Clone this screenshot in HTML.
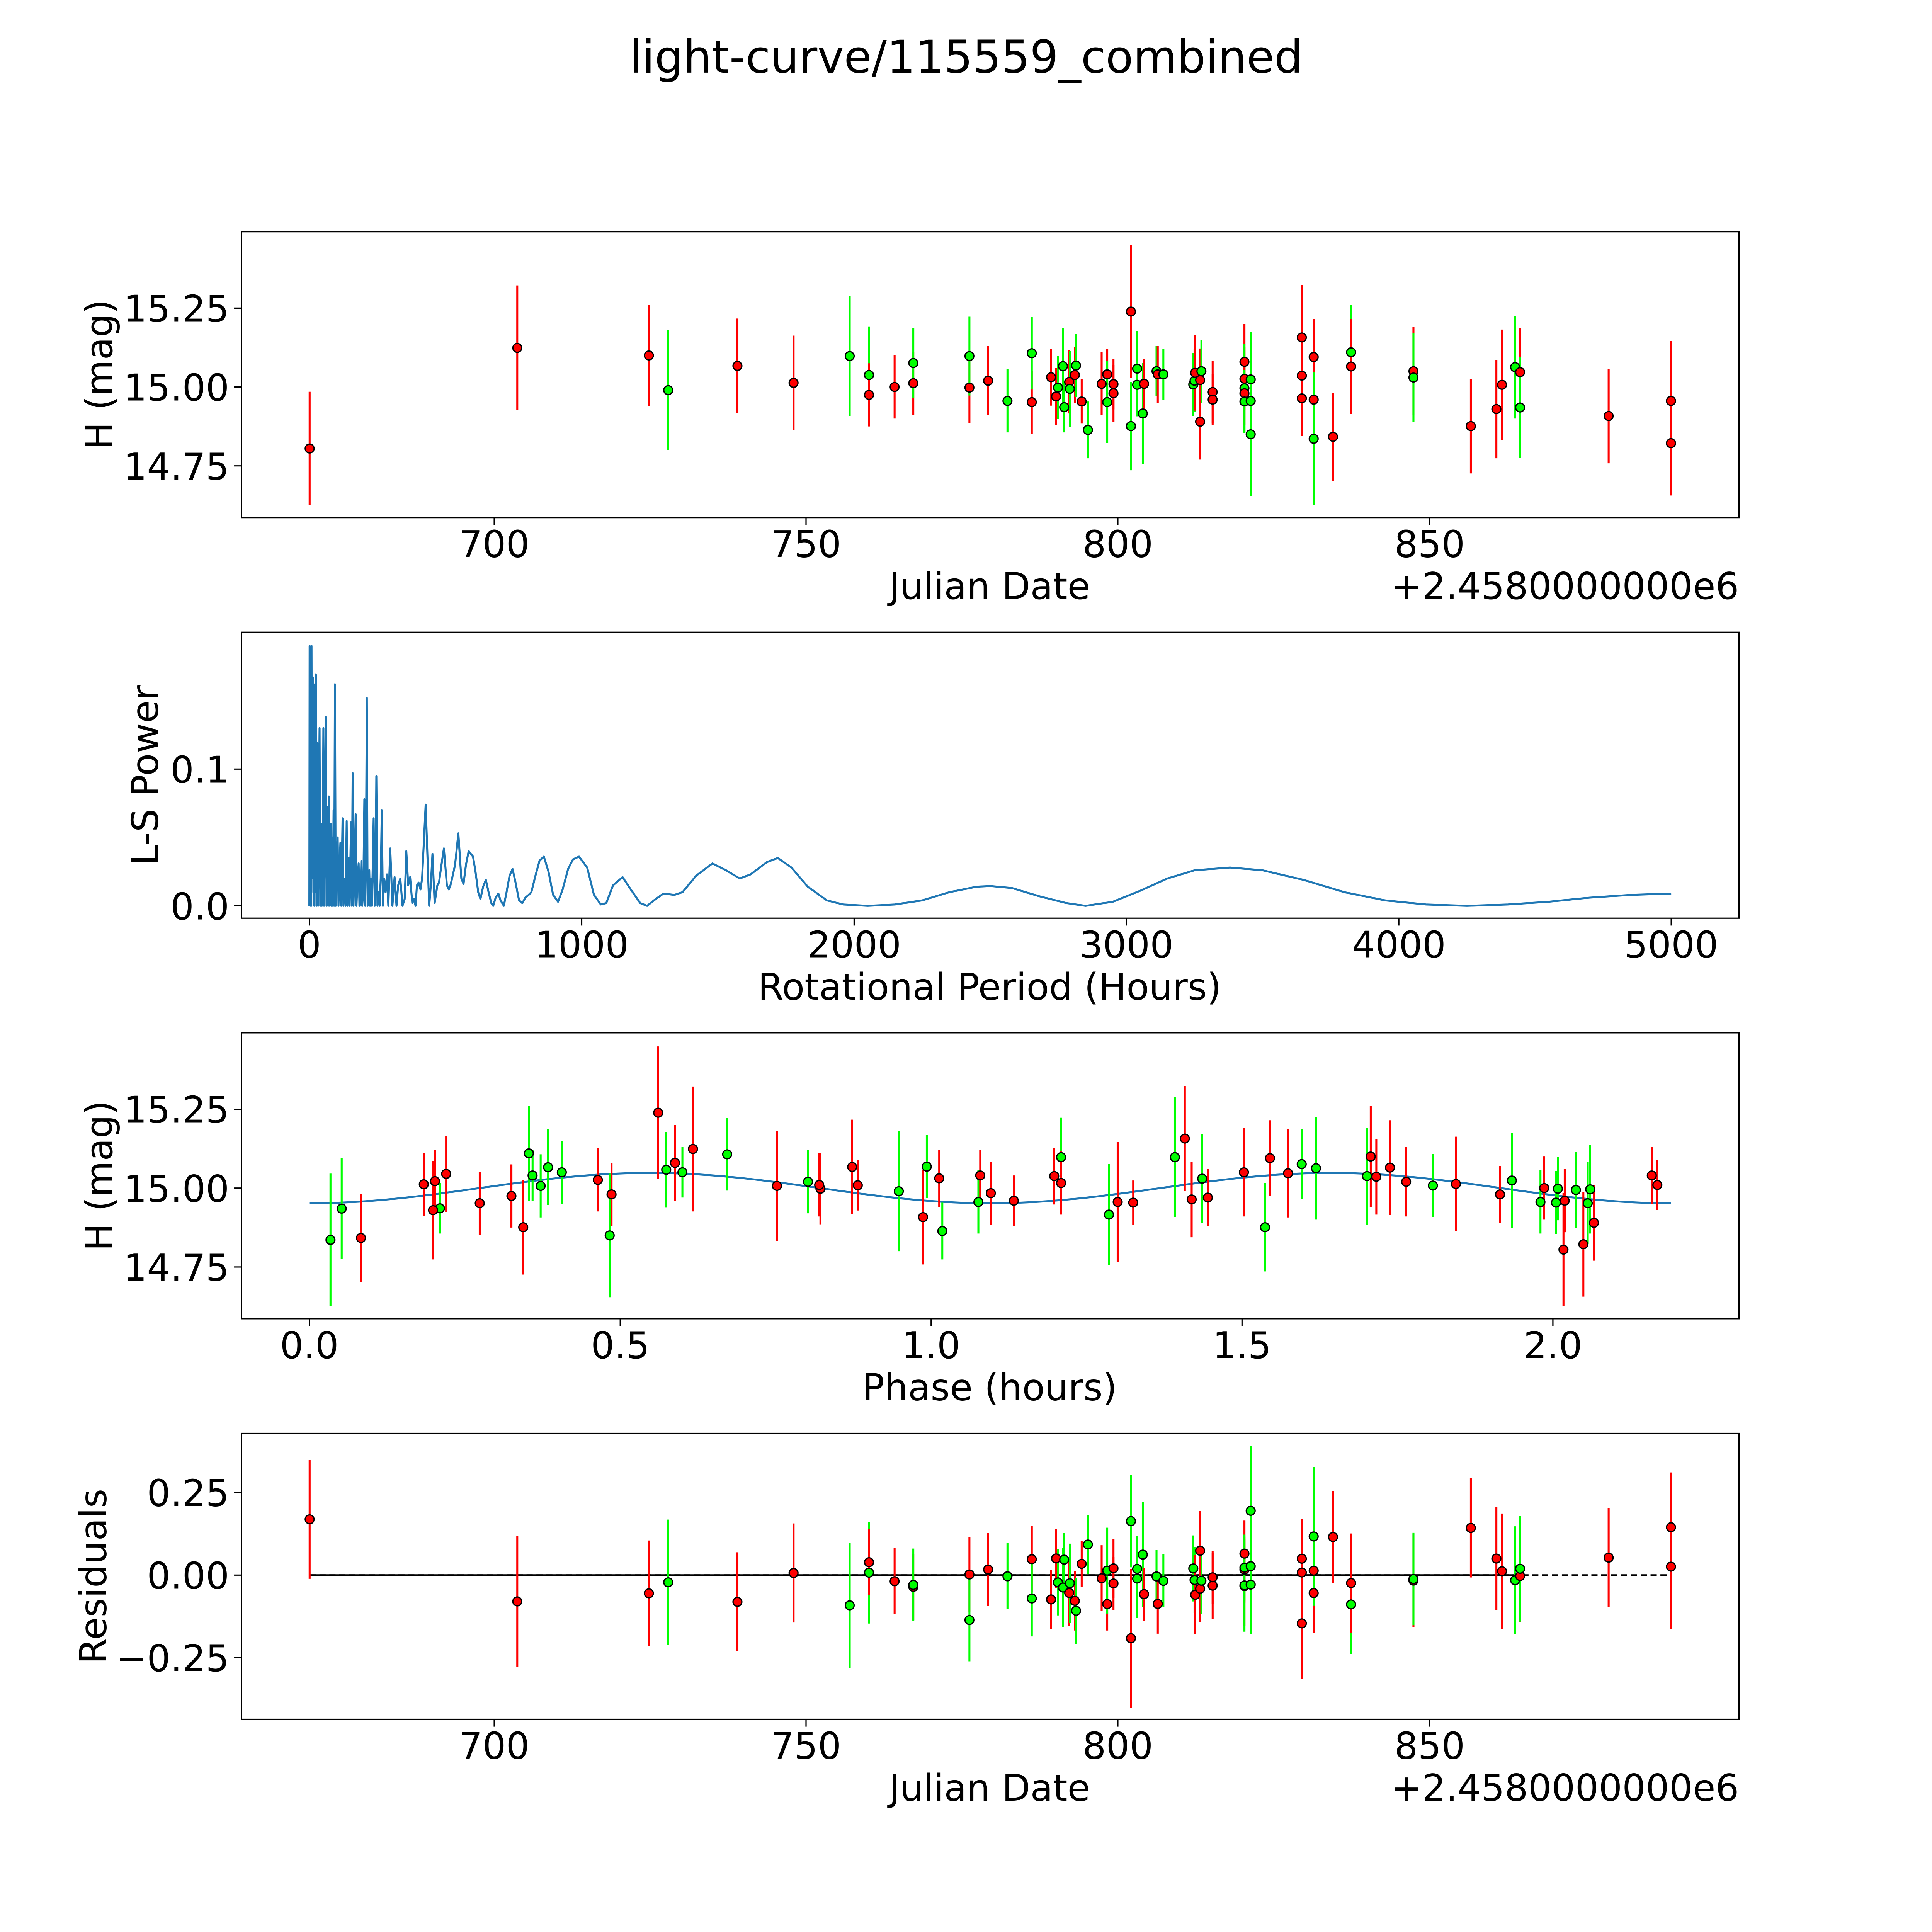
<!DOCTYPE html>
<html><head><meta charset="utf-8">
<style>
html,body{margin:0;padding:0;background:#fff;width:5400px;height:5400px;overflow:hidden;}
svg{display:block;}
text{font-family:"DejaVu Sans","Liberation Sans",sans-serif;fill:#000;}
</style></head>
<body>
<svg id="fig" xmlns="http://www.w3.org/2000/svg" width="5400" height="5400" viewBox="0 0 1693 1693">
<rect x="0" y="0" width="1693" height="1693" fill="#fff"/>
<text x="784" y="59" font-size="36.5" text-anchor="middle">light-curve/115559_combined</text>
</svg>
<script>
const jd=[670.4,703.7,724.8,727.9,739.0,748.0,757.0,760.1,760.1,764.2,767.2,767.2,776.2,776.2,779.2,782.3,786.2,786.2,789.3,790.1,790.4,791.2,791.4,792.2,792.3,793.1,793.3,794.2,795.2,797.4,798.3,798.3,799.3,799.3,802.1,802.1,803.1,803.1,804.0,804.2,806.2,806.4,807.3,812.1,812.3,812.4,813.2,813.4,813.2,815.2,815.2,820.3,820.3,820.3,820.3,820.3,821.3,821.3,821.3,829.5,829.5,829.5,831.4,831.4,831.4,834.5,837.4,837.4,847.4,847.4,856.6,860.7,861.6,863.7,864.5,864.5,878.7,888.7,888.7];
const mag=[14.805,15.124,15.10,14.99,15.067,15.013,15.098,15.038,14.975,15.0,15.012,15.076,14.998,15.098,15.02,14.956,14.952,15.107,15.031,14.97,14.998,15.066,14.936,15.016,14.994,15.038,15.068,14.954,14.864,15.01,15.04,14.952,15.009,14.98,15.239,14.876,15.058,15.007,14.916,15.01,15.05,15.04,15.04,15.008,15.02,15.045,15.022,15.05,14.89,14.984,14.96,15.08,15.026,14.996,14.98,14.954,15.024,14.956,14.85,15.157,15.036,14.964,15.095,14.96,14.836,14.842,15.11,15.065,15.05,15.03,14.876,14.93,15.007,15.063,15.047,14.935,14.908,14.956,14.822];
const magErr=[0.18,0.198,0.16,0.19,0.15,0.15,0.19,0.154,0.1,0.1,0.1,0.11,0.113,0.125,0.11,0.1,0.1,0.115,0.09,0.09,0.1,0.12,0.08,0.1,0.12,0.09,0.1,0.07,0.09,0.1,0.08,0.13,0.08,0.09,0.21,0.14,0.12,0.1,0.16,0.08,0.08,0.09,0.08,0.1,0.1,0.12,0.1,0.1,0.12,0.1,0.08,0.12,0.1,0.14,0.1,0.1,0.15,0.1,0.196,0.167,0.12,0.12,0.12,0.1,0.21,0.14,0.15,0.15,0.14,0.14,0.15,0.156,0.175,0.163,0.14,0.16,0.15,0.19,0.166];
const band="RRRGRRGGRRRGRGRGRGRRGGGRGRGRGRRGRRRGGGGRGRGGGRRGRRRRRGRGGGGRRRRRGRGRRGRRRGRGRRR".split("");
const phase=[2.017,0.617,1.707,0.948,0.873,1.844,1.392,1.701,0.325,1.986,0.184,1.596,0.822,1.209,1.764,1.076,0.274,0.672,1.013,1.445,2.008,0.384,0.21,1.209,2.037,1.198,0.993,1.325,1.018,0.82,1.079,2.056,0.882,1.915,0.561,1.537,0.574,0.372,1.286,2.168,0.6,2.159,0.359,1.807,0.802,0.22,0.202,0.406,2.066,1.096,1.133,0.588,0.464,2.06,0.486,2.005,1.934,1.98,0.483,1.408,1.716,1.419,1.545,2.019,0.034,0.083,0.353,1.738,1.503,1.436,0.344,0.199,0.752,1.619,1.574,0.052,0.987,1.3,2.049];
const modelParams=[15.0,0.048,1.095,2.19];
const periods=[0,1,3,5,7,8,10,12,13.4,15,16,18,20,22,24,26,28,30,32,34,37.5,40,43,46,49,51.6,54,57,60,63,67,69,72,75,78,81,84,86,89,91,94,97,100,104,107,110,114,117,122,125,130,133,137,140,145,148,153,156,159,162,166,170,173,177,181,184,188,191,194,198,202,205,208,211,214,217,220,223,227,230,236,240,243,246,250,254,258,262,266,270,275,280,285,290,297,305,313,320,326,334,342,350,356,363,370,378,384,390,395,401,408,414,427,440,446,452,460,470,476,485,494,505,512,518,524,535,547,558,566,575,585,593,601,610,620,628,638,648,658,668,675,684,694,702,714,724,735,746,756,770,782,793,805,815,830,845,861,878,895,913,930,950,968,990,1020,1045,1070,1090,1115,1150,1180,1215,1240,1265,1300,1340,1370,1420,1480,1530,1580,1620,1680,1720,1770,1830,1900,1960,2050,2150,2250,2350,2450,2500,2580,2680,2780,2850,2950,3050,3150,3250,3380,3500,3650,3800,3950,4100,4250,4400,4550,4700,4850,5000];
const powers=[0,0.19,0,0.12,0,0.19,0.02,0.1,0.167,0.01,0.162,0,0.1,0.01,0.169,0,0.08,0.119,0,0.05,0.13,0,0.06,0,0.04,0.13,0,0.05,0.138,0,0.072,0,0.08,0,0.06,0,0.05,0,0.07,0,0.162,0,0.03,0.05,0,0.02,0.046,0,0.064,0,0.02,0,0.062,0,0.035,0,0.061,0,0.097,0,0.03,0.067,0,0.02,0.031,0,0.01,0.033,0,0.01,0.078,0,0.04,0.152,0,0.01,0.026,0,0.02,0,0.064,0,0.01,0.095,0,0.01,0,0.02,0.07,0,0.02,0.01,0.023,0,0.042,0,0.021,0,0.015,0.02,0,0.005,0.04,0.015,0.021,0.002,0.005,0,0.015,0.017,0.012,0.02,0.074,0,0.015,0.038,0.002,0.015,0.017,0.03,0.042,0.015,0.012,0.015,0.02,0.03,0.053,0.02,0.016,0.03,0.04,0.038,0.036,0.025,0.01,0.005,0.014,0.019,0.01,0.002,0,0.006,0.009,0.004,0,0.01,0.022,0.027,0.018,0.004,0.002,0.006,0.008,0.01,0.022,0.033,0.036,0.025,0.008,0.003,0.012,0.027,0.034,0.036,0.028,0.008,0.001,0.002,0.015,0.021,0.012,0.002,0,0.004,0.009,0.008,0.01,0.022,0.031,0.026,0.02,0.023,0.032,0.035,0.028,0.014,0.004,0.001,0,0.001,0.004,0.01,0.014,0.0145,0.013,0.007,0.002,0,0.003,0.011,0.02,0.026,0.028,0.026,0.019,0.01,0.004,0.001,0,0.001,0.003,0.006,0.008,0.009];
const jdTicks=[700,750,800,850];
const magTicks=[15.25,15.00,14.75];
const perTicks=[0,1000,2000,3000,4000,5000];
const powTicks=[0.0,0.1];
const phTicks=[0.0,0.5,1.0,1.5,2.0];
const resTicks=[0.25,0.00,-0.25];

const NS="http://www.w3.org/2000/svg";
const svg=document.getElementById('fig');
function mk(tag,attrs,parent){const e=document.createElementNS(NS,tag);for(const k in attrs)e.setAttribute(k,attrs[k]);(parent||svg).appendChild(e);return e;}
const L=196,R=1411;
const xJD=v=>401+(v-700)*5.06;
const yMag1=v=>314-(v-15)*256;
const xPer=v=>251+v*0.221;
const yPow=v=>735-v*1110;
const xPh=v=>251+v*504.5;
const yMag3=v=>964-(v-15)*256;
const yRes=v=>1278-v*268;
const model=p=>modelParams[0]-modelParams[1]*Math.cos(2*Math.PI*p/modelParams[2]);
const col=b=>b==="R"?"#ff0000":"#00ff00";
const TF=30, LF=30;

function axesFrame(name){
  const g=mk('g',{});
  
  
  return g;
}
function frame(g,top,bot){const r=mk('rect',{x:L,y:top,width:R-L,height:bot-top,fill:'none',stroke:'#000','stroke-width':1},g);}
function xticks(g,ticks,fx,bot,fmt,base){ticks.forEach(t=>{const x=fx(t);mk('line',{x1:x,x2:x,y1:bot,y2:bot+6,stroke:'#000','stroke-width':1},g);const tx=mk('text',{x:x,y:base,'font-size':TF,'text-anchor':'middle'},g);tx.textContent=fmt(t);});}
function yticks(g,ticks,fy,fmt){ticks.forEach(t=>{const y=fy(t);mk('line',{x1:L-6,x2:L,y1:y,y2:y,stroke:'#000','stroke-width':1},g);const tx=mk('text',{x:L-10,y:y+11,'font-size':TF,'text-anchor':'end'},g);tx.textContent=fmt(t);});}
function label(g,txt,x,y,rot,name,anchor){const t=mk('text',{x:x,y:y,'font-size':LF,'text-anchor':anchor||'middle'},g);if(rot)t.setAttribute('transform','rotate(-90 '+x+' '+y+')');t.textContent=txt;}
function points(g,xs,ys,es,fx,fy,scale){
  xs.forEach((xv,i)=>{const x=fx(xv),y=fy(ys[i]);const e=es[i]*scale;
    const ln=mk('line',{x1:x,x2:x,y1:y-e,y2:y+e,stroke:col(band[i]),'stroke-width':1.6},g);
    });
  xs.forEach((xv,i)=>{const c=mk('circle',{cx:fx(xv),cy:fy(ys[i]),r:3.6,fill:col(band[i]),stroke:'#000','stroke-width':1},g);
    });
}
const f2=t=>t.toFixed(2), f1=t=>t.toFixed(1), f0=t=>String(t);
const fres=t=>(t<0?'\u2212':'')+Math.abs(t).toFixed(2);

// Panel 1
const g1=axesFrame('light-curve-panel');
xticks(g1,jdTicks,xJD,420,f0,452);yticks(g1,magTicks,yMag1,f2);
points(g1,jd,mag,magErr,xJD,yMag1,256);
frame(g1,188,420);
label(g1,'Julian Date',803,486,false,'x-axis-title');
label(g1,'+2.4580000000e6',1411,486,false,'x-offset-text','end');
label(g1,'H (mag)',91,304,true,'y-axis-title');

// Panel 2
const g2=axesFrame('periodogram-panel');
xticks(g2,perTicks,xPer,745,f0,777);yticks(g2,powTicks,yPow,f1);
const pts=periods.map((p,i)=>xPer(p).toFixed(2)+','+yPow(powers[i]).toFixed(2)).join(' ');
const pl=mk('polyline',{points:pts,fill:'none',stroke:'#1f77b4','stroke-width':1.6,'stroke-linejoin':'round'},g2);

frame(g2,513,745);
label(g2,'Rotational Period (Hours)',803,811,false,'x-axis-title');
label(g2,'L-S Power',128,629,true,'y-axis-title');

// Panel 3
const g3=axesFrame('phase-folded-panel');
xticks(g3,phTicks,xPh,1070,f1,1102);yticks(g3,magTicks,yMag3,f2);
const mpts=[];for(let k=0;k<=220;k++){const p=modelParams[3]*k/220;mpts.push(xPh(p).toFixed(2)+','+yMag3(model(p)).toFixed(2));}
const ml=mk('polyline',{points:mpts.join(' '),fill:'none',stroke:'#1f77b4','stroke-width':1.6},g3);

points(g3,phase,mag,magErr,xPh,yMag3,256);
frame(g3,838,1070);
label(g3,'Phase (hours)',803,1136,false,'x-axis-title');
label(g3,'H (mag)',91,954,true,'y-axis-title');

// Panel 4
const g4=axesFrame('residuals-panel');
xticks(g4,jdTicks,xJD,1395,f0,1427);yticks(g4,resTicks,yRes,fres);
const x0=xJD(Math.min(...jd)),x1=xJD(Math.max(...jd));
const dl=mk('line',{x1:x0,x2:x1,y1:yRes(0),y2:yRes(0),stroke:'#000','stroke-width':1.3,'stroke-dasharray':'5,3'},g4);

const sl=mk('line',{x1:x0,x2:xJD(864.5),y1:yRes(0),y2:yRes(0),stroke:'#000','stroke-width':1.3},g4);

const resid=mag.map((m,i)=>model(phase[i])-m);
points(g4,jd,resid,magErr,xJD,yRes,268);
frame(g4,1163,1395);
label(g4,'Julian Date',803,1461,false,'x-axis-title');
label(g4,'+2.4580000000e6',1411,1461,false,'x-offset-text','end');
label(g4,'Residuals',86,1279,true,'y-axis-title');
</script>
</body></html>
